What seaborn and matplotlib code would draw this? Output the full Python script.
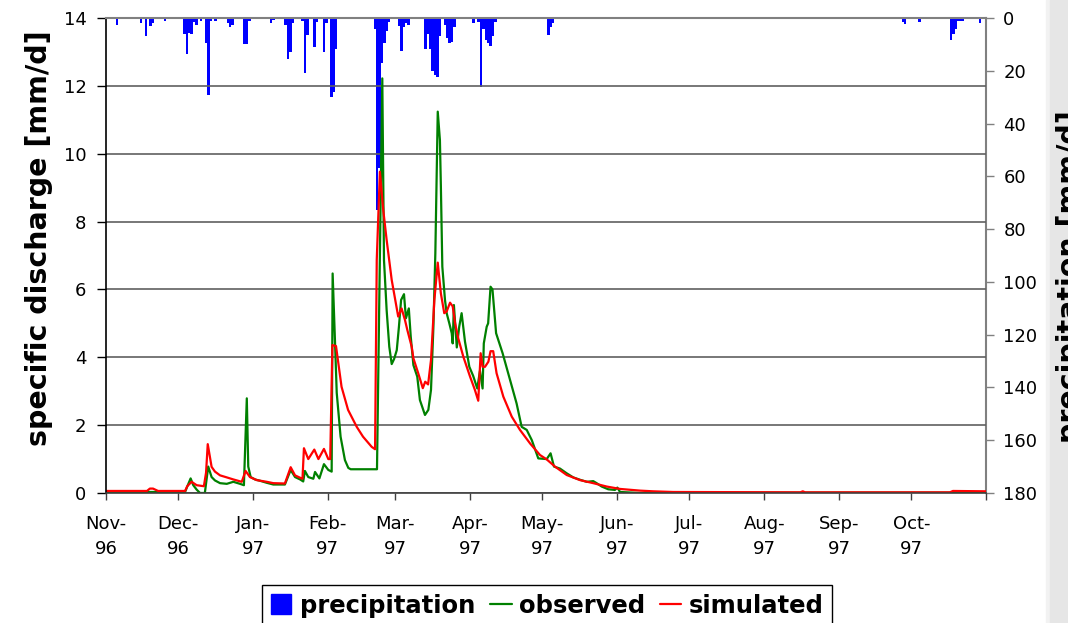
import numpy as np
import matplotlib
matplotlib.use("Agg")
import matplotlib.pyplot as plt
import seaborn as sns
from matplotlib.lines import Line2D
from matplotlib.patches import Rectangle

# ---- axis categories (days since 1 Nov 1996) ----
month_ticks = [0, 30, 61, 92, 120, 151, 181, 212, 242, 273, 304, 334, 365]
month_labels = ["Nov-\n96", "Dec-\n96", "Jan-\n97", "Feb-\n97", "Mar-\n97", "Apr-\n97",
                "May-\n97", "Jun-\n97", "Jul-\n97", "Aug-\n97", "Sep-\n97", "Oct-\n97", ""]

# ---- daily precipitation [mm/d] (non-zero days only) ----
precip_day = [4, 14, 15, 16, 18, 19, 20, 24, 32, 33, 34, 35, 36, 37, 38, 39, 41, 42, 43, 45,
              50, 51, 52, 57, 58, 59, 68, 69, 73, 74, 75, 76, 77, 81, 82, 83, 86, 87, 90, 91,
              93, 94, 95, 109, 111, 112, 113, 114, 115, 116, 117, 118, 121, 122, 123, 124, 125,
              126, 132, 133, 134, 135, 136, 137, 138, 140, 141, 142, 143, 144, 151, 152, 154,
              155, 156, 157, 158, 159, 160, 161, 178, 183, 184, 185, 239, 330, 331, 332, 337,
              350, 351, 352, 353, 354, 355, 360, 362, 363]
precip_mm = [2.6, 1.8, 0.5, 7.0, 2.9, 1.8, 0.5, 1.0, 6.0, 13.5, 5.5, 6.0, 1.5, 2.5, 0.5, 1.0,
             9.3, 29.0, 1.0, 1.0, 2.0, 3.5, 2.5, 10.0, 10.0, 1.0, 2.0, 0.8, 0.5, 2.5, 15.5, 13.0,
             2.0, 1.0, 21.0, 6.5, 11.0, 1.5, 13.0, 2.0, 30.0, 28.0, 11.6, 0.3, 4.3, 72.7, 57.0,
             17.0, 9.5, 5.0, 1.5, 0.5, 3.0, 12.5, 3.5, 2.0, 2.5, 0.5, 11.6, 6.0, 11.6, 20.0,
             21.5, 22.5, 7.0, 2.5, 7.5, 9.5, 9.0, 3.5, 0.3, 2.0, 1.5, 26.0, 4.0, 8.5, 9.5, 10.5,
             7.0, 1.5, 0.3, 6.5, 3.5, 2.0, 0.3, 1.4, 2.2, 0.5, 1.4, 8.3, 6.0, 4.0, 1.0, 1.2, 1.0,
             0.5, 2.0, 0.5]

# ---- observed specific discharge [mm/d] ----
obs_day = [0, 32.8, 33.7, 35.1, 36.2, 37.6, 39, 41, 42.4, 43.8, 45.2, 47.3, 50.1, 52.8, 55.6,
           57.2, 58.4, 59, 60, 61.8, 63.9, 66.7, 69.4, 74.2, 76.6, 78.4, 80.5, 81.8, 82.5, 83.9,
           86, 86.7, 88.5, 90.4, 92.2, 93.6, 94, 95, 95.7, 97.3, 99.1, 100.5, 101.5, 111.6,
           112.4, 114.6, 115.3, 116.4, 117.5, 118.5, 119.5, 120.6, 121.5, 122.4, 123.6, 124.4,
           125.6, 126.4, 127.5, 129.1, 130.2, 132.3, 133.7, 134.8, 135.8, 136.6, 137.6, 138.5,
           138.9, 139.5, 140.6, 141.3, 142.4, 143.4, 143.8, 144.3, 145.5, 146.5, 147.5, 148.9,
           150.7, 152.3, 154.0, 155.1, 156.2, 156.7, 157.9, 158.5, 159.5, 160.3, 161.8, 164.5,
           167.6, 170.3, 172.4, 174.5, 176.6, 179.3, 182.8, 184.4, 185.8, 188.3, 191.1, 193.8,
           196.6, 199.4, 202.1, 203.5, 205.6, 208.3, 211.1, 212.1, 213.2, 221.5, 240, 364.9]
obs_q = [0.03, 0.03, 0.19, 0.43, 0.23, 0.10, 0.0, 0.0, 0.78, 0.47, 0.37, 0.29, 0.27, 0.33, 0.27,
         0.23, 2.79, 0.78, 0.47, 0.40, 0.36, 0.30, 0.25, 0.25, 0.68, 0.47, 0.40, 0.34, 0.65, 0.47,
         0.42, 0.62, 0.43, 0.85, 0.68, 0.63, 6.47, 4.42, 2.95, 1.66, 0.97, 0.74, 0.70, 0.70,
         0.70, 12.22, 6.87, 5.39, 4.31, 3.80, 3.95, 4.21, 4.90, 5.69, 5.86, 5.15,
         5.44, 4.61, 3.77, 3.43, 2.74, 2.30, 2.45, 3.04, 4.90, 7.06, 11.24, 10.4,
         9.03, 6.67, 5.69, 5.30, 5.00, 4.71, 4.41, 5.54, 4.29, 4.90, 5.30, 4.46,
         3.72, 3.45, 3.08, 3.60, 3.08, 4.41, 4.90, 5.00, 6.08, 6.00, 4.71, 4.12,
         3.33, 2.64, 1.95, 1.86, 1.56, 1.02, 1.00, 1.17, 0.78, 0.72, 0.58, 0.46,
         0.39, 0.33, 0.35, 0.29, 0.19, 0.11, 0.09, 0.16, 0.03, 0.0, 0.01, 0.01]

# ---- simulated specific discharge [mm/d] ----
sim_day = [0, 17, 18.2, 19.5, 21.6, 32.8, 33.7, 35.5, 37.6, 40.6, 41.5, 42.2, 43.8, 45.2, 47.3,
           50.1, 52.8, 56.3, 57.9, 59.7, 62.5, 66.7, 69.4, 74.2, 76.6, 78.4, 80.5, 81.5, 82.1,
           83.9, 86.4, 88.1, 90.4, 92.2, 93.0, 93.9, 95.4, 97.7, 100.4, 104, 106.6, 110.2, 111.6,
           112.3, 113.6, 115, 116.4, 118.5, 121.2, 122.6, 124, 125, 126.8, 127.5, 129.5, 131.4,
           132.4, 133.6, 134.8, 136.2, 137.6, 138.9, 140.3, 141.3, 142.7, 143.8, 144.8, 146.1,
           148.2, 151, 153, 154.4, 155.4, 156.2, 157.2, 158.6, 159.5, 160.6, 162, 164.8, 168.3,
           171.7, 175.9, 180, 182.8, 186.2, 191.1, 196.6, 202.1, 207.7, 213.2, 221.5, 226.9,
           235.2, 288, 289, 290, 350, 351.3, 365]
sim_q = [0.06, 0.06, 0.13, 0.13, 0.06, 0.06, 0.20, 0.33, 0.23, 0.20, 0.60, 1.44, 0.77, 0.63, 0.52,
         0.46, 0.40, 0.33, 0.65, 0.47, 0.38, 0.33, 0.29, 0.28, 0.76, 0.52, 0.45, 0.42, 1.32,
         1.00, 1.28, 1.00, 1.30, 1.00, 1.00, 4.36, 4.33, 3.13, 2.45, 1.95, 1.66, 1.36, 1.29,
         6.87, 9.47, 8.34, 7.46, 6.28, 5.20, 5.44, 5.10, 4.80, 4.31, 3.97, 3.53, 3.09,
         3.28, 3.20, 3.92, 5.69, 6.79, 5.88, 5.30, 5.35, 5.61, 5.50, 5.00, 4.56,
         4.02, 3.43, 3.04, 2.72, 4.12, 3.72, 3.72, 3.87, 4.18, 4.18, 3.53, 2.84, 2.25,
         1.86, 1.46, 1.12, 0.99, 0.78, 0.53, 0.38, 0.29, 0.19, 0.12, 0.07, 0.05,
         0.03, 0.02, 0.05, 0.02, 0.02, 0.06, 0.05]

sns.set_theme(style="ticks", rc={"text.color": "black", "axes.labelcolor": "black",
                                 "xtick.color": "black", "ytick.color": "black"})
plt.rcParams["font.family"] = ["DejaVu Sans"]

W, H = 1068, 623
fig = plt.figure(figsize=(W / 100, H / 100), dpi=100)
fig.patch.set_facecolor("white")

# right-hand grey strip of the original screenshot
fig.patches.append(Rectangle((1046 / W, 0), 4 / W, 1, transform=fig.transFigure,
                             color="#f2f2f2", zorder=0))
fig.patches.append(Rectangle((1050 / W, 0), 18 / W, 1, transform=fig.transFigure,
                             color="#e6e6e6", zorder=0))

ax = fig.add_axes([106 / W, 1 - 493 / H, 880 / W, 475 / H])
ax2 = ax.twinx()

# precipitation bars on the inverted right axis
ax2.bar(np.array(precip_day) + 0.5, precip_mm, width=1.0, color="#0000ff",
        linewidth=0, align="center")
ax2.set_ylim(180, 0)
ax2.set_yticks(range(0, 181, 20))

# discharge lines on the left axis (drawn above bars)
ax.set_zorder(ax2.get_zorder() + 1)
ax.patch.set_visible(False)
sns.lineplot(x=obs_day, y=obs_q, ax=ax, color="#008000", linewidth=1.6, sort=False,
             errorbar=None, legend=False)
sns.lineplot(x=sim_day, y=sim_q, ax=ax, color="#ff0000", linewidth=1.6, sort=False,
             errorbar=None, legend=False)

ax.set_xlim(0, 365)
ax.set_ylim(0, 14)
ax.set_yticks(range(0, 15, 2))
ax.set_xticks(month_ticks)
ax.set_xticklabels(month_labels, linespacing=1.5)
ax.set_xlabel("")
ax.set_ylabel("")
ax.yaxis.grid(True, color="#606060", linewidth=1.2)
ax.xaxis.grid(False)

ax.spines["right"].set_visible(False)
ax.spines["left"].set_color("black")
ax.spines["left"].set_linewidth(1.2)
ax.spines["bottom"].set_color("#404040")
ax.spines["bottom"].set_linewidth(1.2)
ax.spines["top"].set_visible(True)
ax.spines["top"].set_color("#808080")
ax.spines["top"].set_linewidth(1.5)
for s in ["left", "top", "bottom"]:
    ax2.spines[s].set_visible(False)
ax2.spines["right"].set_visible(True)
ax2.spines["right"].set_color("#808080")
ax2.spines["right"].set_linewidth(1.5)

ax.tick_params(axis="y", left=True, direction="out", length=6.5, width=1, color="black",
               pad=7.5, labelsize=13)
ax.tick_params(axis="x", bottom=True, direction="out", length=5, width=1, color="#404040",
               pad=11, labelsize=13)
ax2.tick_params(axis="y", right=True, direction="out", length=6, width=1, color="#808080",
                pad=6.5, labelsize=13)
ax2.grid(False)

fig.text(25 / W, 1 - 238 / H, "specific discharge [mm/d]", rotation=90, ha="left",
         va="center", fontsize=20.5, fontweight="bold")
fig.text(1056 / W, 1 - 277 / H, "precipitation [mm/d]", rotation=90, ha="left",
         va="center", fontsize=20.5, fontweight="bold")

handles = [Line2D([], [], marker="s", color="#0000ff", markersize=14, linestyle="None"),
           Line2D([], [], color="#008000", linewidth=1.6),
           Line2D([], [], color="#ff0000", linewidth=1.6)]
leg = fig.legend(handles, ["precipitation", "observed", "simulated"], ncol=3,
                 loc="upper left", bbox_to_anchor=(262 / W, 1 - 585 / H),
                 bbox_transform=fig.transFigure, borderaxespad=0,
                 prop={"size": 17.5, "weight": "bold"}, frameon=True, fancybox=False,
                 edgecolor="black", framealpha=1, handlelength=0.9, handletextpad=0.3,
                 columnspacing=0.6, borderpad=0.35)
leg.get_frame().set_linewidth(1.0)

fig.savefig("out.png", dpi=100)
